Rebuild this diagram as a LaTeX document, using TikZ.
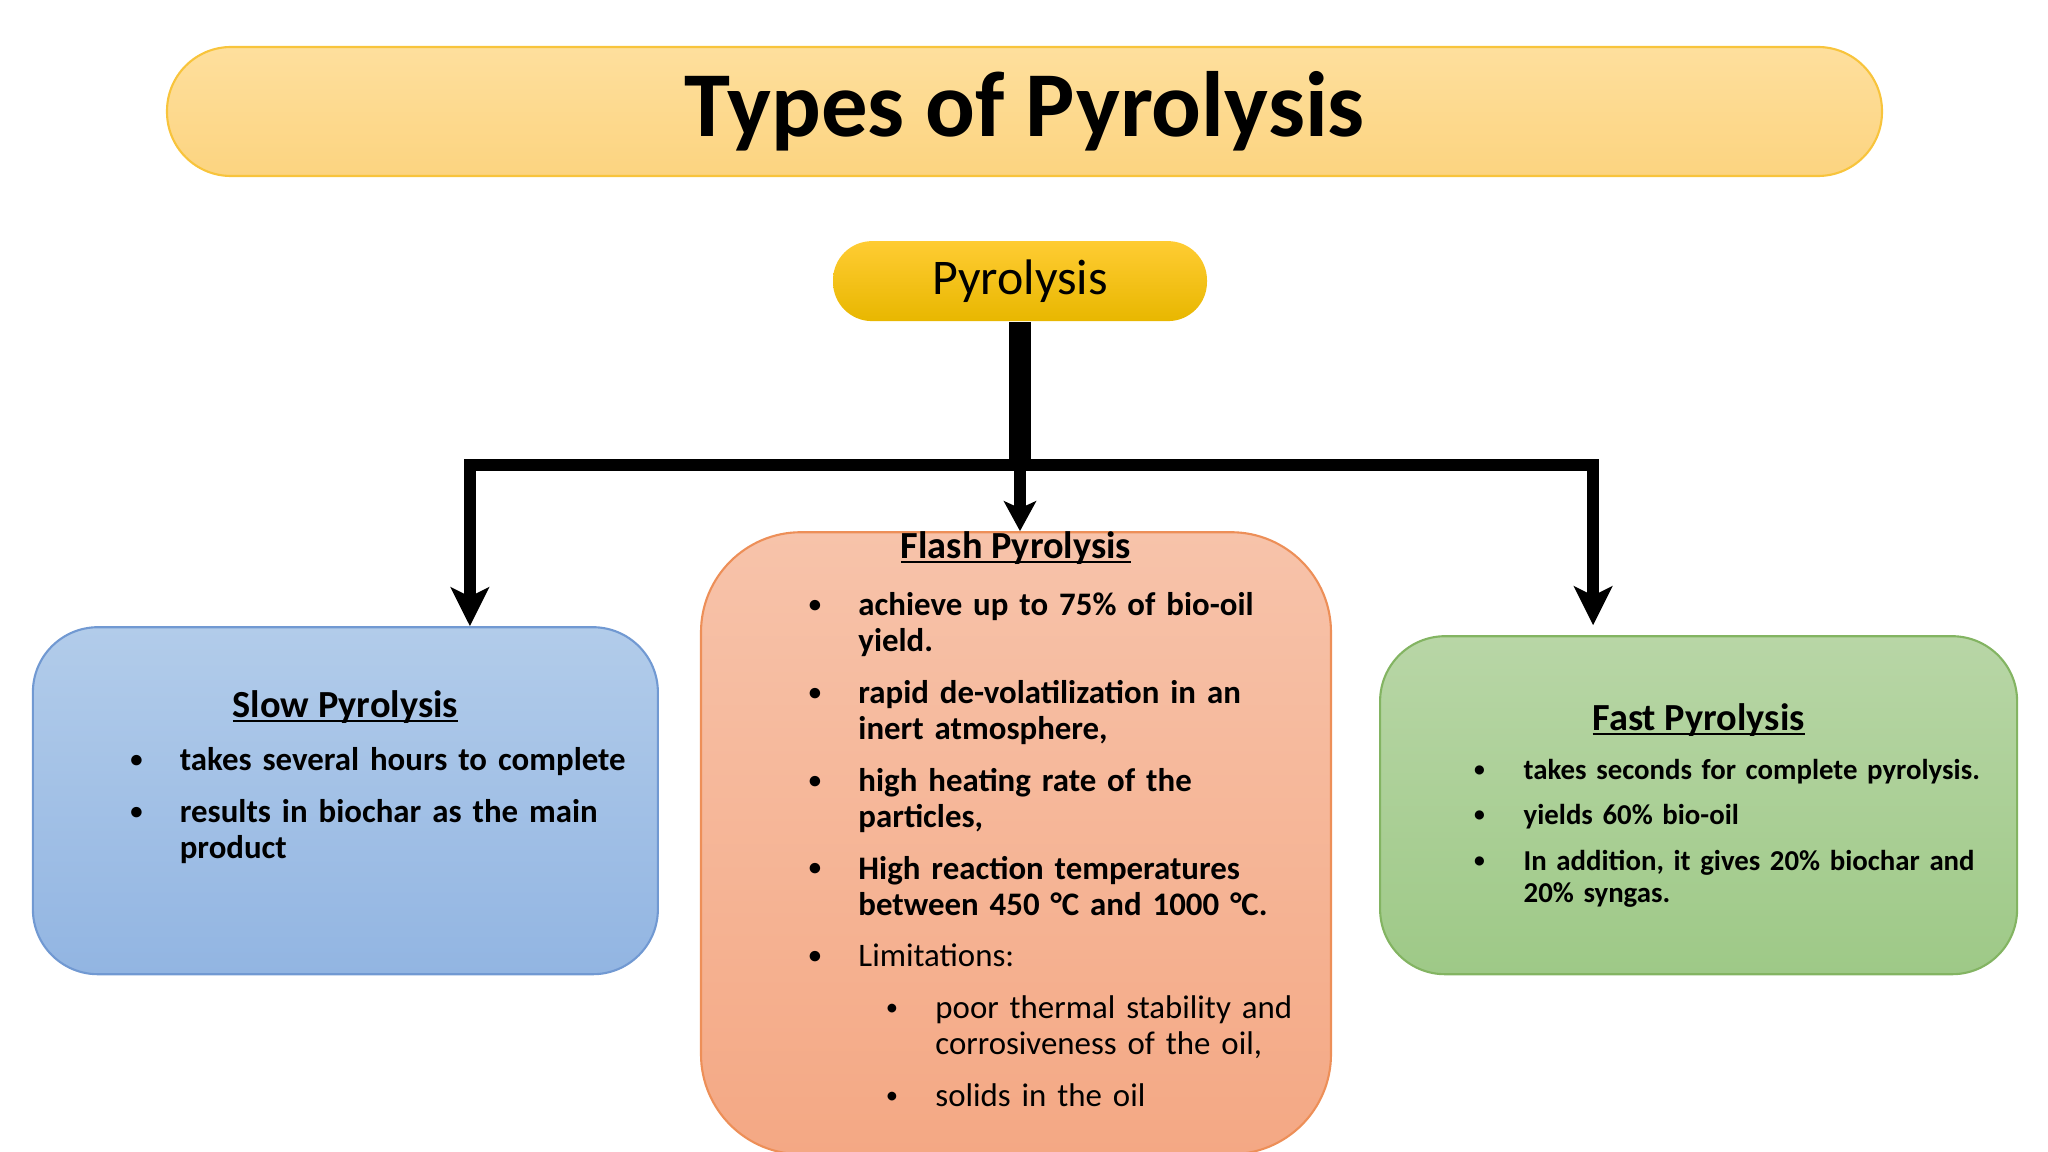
\documentclass[tikz,border=0pt]{standalone}
\usepackage{fontspec}
\setmainfont{Carlito}
\usepackage{graphicx}
\usepackage{xcolor}
\usepackage{tikz}
\usetikzlibrary{arrows.meta, positioning}

\definecolor{bannerTop}{RGB}{254,223,157}
\definecolor{bannerBot}{RGB}{252,212,128}
\definecolor{bannerLine}{RGB}{248,196,60}
\definecolor{goldTop}{RGB}{255,204,51}
\definecolor{goldBot}{RGB}{232,183,0}
\definecolor{slowTop}{RGB}{178,204,234}
\definecolor{slowBot}{RGB}{146,181,226}
\definecolor{slowLine}{RGB}{113,153,210}
\definecolor{flashTop}{RGB}{247,195,170}
\definecolor{flashBot}{RGB}{244,168,132}
\definecolor{flashLine}{RGB}{237,143,88}
\definecolor{fastTop}{RGB}{184,214,166}
\definecolor{fastBot}{RGB}{158,201,135}
\definecolor{fastLine}{RGB}{131,180,98}

% underlined heading, rule crossing the descenders
\newsavebox{\hdbox}
\newcommand{\hdul}[1]{\sbox\hdbox{#1}\rlap{\rule[-1.4pt]{\wd\hdbox}{0.7pt}}\usebox\hdbox}
% bullet item, optional extra indent for the second level
\newcommand{\bitem}[2][0pt]{\par\leftskip=#1\relax\hangindent=14.6pt\hangafter=1
  \noindent\strut\makebox[14.6pt][l]{\hspace{0.5pt}\raisebox{0.9pt}{\scalebox{0.75}{\textbullet}}}#2\par}

\begin{document}
\begin{tikzpicture}[
  box/.style={draw, rounded corners=6.5mm, line width=0.6pt, inner sep=0pt},
  banner/.style={box, rounded corners=6.4mm, minimum width=17.15cm, minimum height=1.29cm,
                 top color=bannerTop, bottom color=bannerBot, draw=bannerLine,
                 font=\fontsize{26.4}{30}\selectfont\bfseries},
  root/.style={box, draw=none, rounded corners=3.9mm, minimum width=3.74cm, minimum height=0.8cm,
               top color=goldTop, bottom color=goldBot, font=\fontsize{14.2}{16}\selectfont},
  head/.style={anchor=base, inner sep=0pt, font=\fontsize{10.9}{12}\selectfont\bfseries},
  items/.style={anchor=north west, align=left, inner sep=0pt,
                font=\fontsize{9.35}{10.3}\selectfont\bfseries\setlength{\parskip}{4.4pt}},
  arr/.style={-{Stealth[length=11pt, width=10.8pt, inset=2.6pt]}, line width=3.4pt},
  stem/.style={line width=6.5pt},
]
  \useasboundingbox (0,0) rectangle (20.48,-11.52);

  \node[banner] (title) at (10.245,-1.115) {Types of Pyrolysis};
  \node[root, below=0.63cm of title, xshift=-0.045cm] (pyro) {Pyrolysis};

  \node[box, rounded corners=1cm, minimum width=6.30cm, minimum height=6.22cm,
        top color=flashTop, bottom color=flashBot, draw=flashLine,
        below=2.09cm of pyro, xshift=-0.04cm] (flash) {};
  \node[box, minimum width=6.25cm, minimum height=3.47cm,
        top color=slowTop, bottom color=slowBot, draw=slowLine,
        left=0.41cm of flash, yshift=0.425cm] (slow) {};
  \node[box, minimum width=6.37cm, minimum height=3.38cm,
        top color=fastTop, bottom color=fastBot, draw=fastLine,
        right=0.47cm of flash, yshift=0.38cm] (fast) {};

  % slow
  \node[head] (slowhd) at ([yshift=-0.91cm]slow.north) {\hdul{Slow Pyrolysis}};
  \node[items, text width=5.2cm] (slowtx) at ([xshift=0.96cm, yshift=-0.92cm]slow.north west)
    {\bitem{takes several hours to complete}
     \bitem{results in biochar as the main\newline product}};

  % flash
  \node[head] (flashhd) at ([yshift=-0.27cm]flash.north) {\hdul{Flash Pyrolysis}};
  \node[items, text width=5.1cm] (flashtx) at ([xshift=1.065cm, yshift=-0.32cm]flash.north west)
    {\bitem{achieve up to 75\% of bio-oil\newline yield.}
     \bitem{rapid de-volatilization in an\newline inert atmosphere,}
     \bitem{high heating rate of the\newline particles,}
     \bitem{High reaction temperatures\newline between 450 °C and 1000 °C.}
     \bitem{\mdseries Limitations:}
     \bitem[21.9pt]{\mdseries poor thermal stability and\newline corrosiveness of the oil,}
     \bitem[21.9pt]{\mdseries solids in the oil}};

  % fast
  \node[head] (fasthd) at ([yshift=-0.95cm]fast.north) {\hdul{Fast Pyrolysis}};
  \node[items, text width=5.4cm,
        font=\fontsize{8.2}{9.25}\selectfont\bfseries\setlength{\parskip}{3.7pt}]
        (fasttx) at ([xshift=0.926cm, yshift=-0.98cm]fast.north west)
    {\bitem{takes seconds for complete pyrolysis.}
     \bitem{yields 60\% bio-oil}
     \bitem{In addition, it gives 20\% biochar and\newline 20\% syngas.}};

  % connectors
  \coordinate[below=1.43cm of pyro] (hub);
  \draw[stem] (pyro) -- (hub);
  \draw[arr] (hub) -| ([xshift=1.245cm]slow.north);
  \draw[arr] (hub) -| ([xshift=-1.055cm, yshift=0.1cm]fast.north);
  \draw[arr, -{Stealth[length=8.5pt, width=9.1pt, inset=2pt]}] (hub) -- (hub |- flash.north);
\end{tikzpicture}
\end{document}
